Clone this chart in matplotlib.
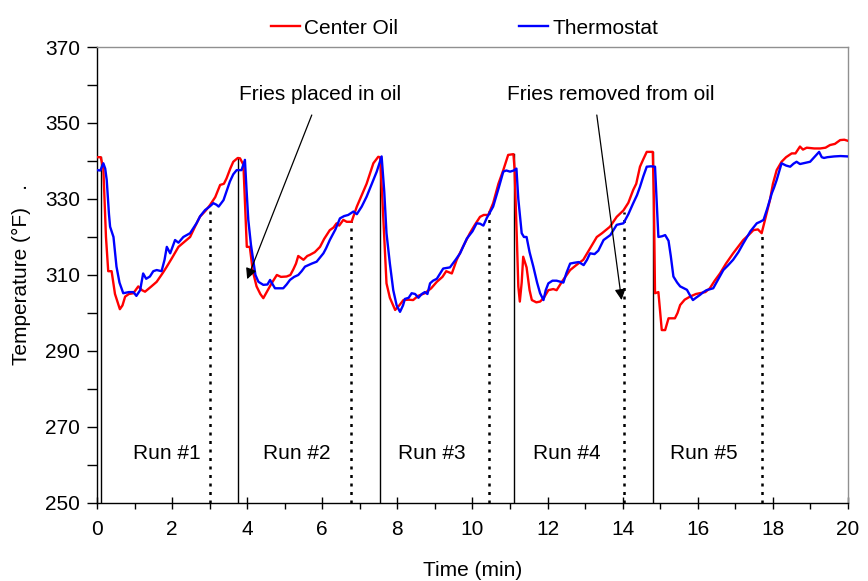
import matplotlib
matplotlib.use("Agg")
import matplotlib.pyplot as plt
from matplotlib.ticker import MultipleLocator, FixedLocator

plt.rcParams['font.family'] = ['Liberation Sans', 'DejaVu Sans']

# Center oil temperature (red)
oil_t = [0.00, 0.10, 0.17, 0.24, 0.30, 0.39, 0.48, 0.61, 0.68, 0.75, 0.85, 0.97, 1.10, 1.20, 1.28, 1.45, 1.59,
         1.75, 1.86, 2.00, 2.17, 2.30, 2.48, 2.60, 2.74, 2.90, 3.01, 3.15, 3.28, 3.38, 3.45, 3.55, 3.63, 3.75,
         3.81, 3.90, 3.96, 3.99, 4.07, 4.15, 4.25, 4.35, 4.43, 4.55, 4.65, 4.79, 4.90, 5.05, 5.15, 5.23, 5.30,
         5.36, 5.43, 5.50, 5.60, 5.67, 5.80, 5.94, 6.05, 6.20, 6.30, 6.38, 6.45, 6.56, 6.65, 6.78, 6.85, 6.92,
         7.05, 7.18, 7.28, 7.36, 7.49, 7.54, 7.60, 7.71, 7.80, 7.94, 8.05, 8.16, 8.30, 8.42, 8.55, 8.73, 8.90,
         9.05, 9.20, 9.30, 9.45, 9.58, 9.75, 9.93, 10.05, 10.20, 10.30, 10.42, 10.55, 10.69, 10.82, 10.95,
         11.09, 11.12, 11.18, 11.22, 11.26, 11.31, 11.35, 11.44, 11.52, 11.58, 11.70, 11.80, 11.90, 12.02,
         12.15, 12.24, 12.40, 12.60, 12.75, 12.95, 13.10, 13.31, 13.45, 13.66, 13.84, 14.02, 14.15, 14.28,
         14.36, 14.46, 14.55, 14.64, 14.80, 14.83, 14.86, 14.95, 15.00, 15.04, 15.13, 15.22, 15.39, 15.46,
         15.53, 15.65, 15.79, 15.95, 16.05, 16.20, 16.32, 16.45, 16.59, 16.75, 16.94, 17.08, 17.21, 17.35,
         17.48, 17.60, 17.70, 17.80, 17.92, 18.00, 18.10, 18.23, 18.35, 18.50, 18.60, 18.72, 18.80, 18.90,
         19.10, 19.26, 19.40, 19.52, 19.65, 19.79, 19.90, 20.00]
oil_T = [341, 341, 338, 320, 311, 311, 305, 301, 302, 304.3, 305, 305.2, 307, 306, 305.6, 307, 308.2,
         310.5, 312.2, 314.5, 317.4, 318.5, 320, 322.5, 325.3, 327, 328.4, 330.5, 333.7, 334, 335.4, 338, 339.8, 340.8,
         340.7, 339, 325, 317.4, 317.4, 311, 307, 305, 303.9, 306, 307.8, 310, 309.5, 309.6, 310, 311.5, 313,
         315, 314.5, 314, 315, 315.3, 316, 317.4, 319.5, 321.8, 322.5, 323.6, 323, 324.5, 324, 324, 326, 328,
         331, 334, 337, 339.4, 341.1, 341, 330, 307.8, 304, 300.8, 302, 303.4, 303.5, 303.4, 304.5, 305.2, 306.5,
         308.2, 309.5, 311, 310.4, 314, 317.5, 321, 323, 325.3, 325.8, 325.8, 328.9, 334, 337.6, 341.6,
         341.8, 338, 320, 307, 303, 308, 314.8, 312, 306, 303.4, 302.8, 303, 304, 306,
         306.3, 306, 308.5, 311.3, 312.5, 314, 316.5, 320, 321, 322.7, 325.3, 327, 329, 332.4,
         334, 338.5, 340.5, 342.4, 342.4, 330, 305.2, 305.5, 300, 295.5, 295.5, 298.6, 298.6, 300,
         302.1, 303.5, 304.3, 305, 305.2, 305.5, 306.5, 308.5, 310.4, 313, 315.7, 317.5, 319.2, 320.5,
         321.8, 322, 321, 325, 329.7, 334, 337.6, 339.8, 341, 342, 342, 343.8, 343, 343.5,
         343.3, 343.3, 343.5, 344.2, 344.5, 345.5, 345.6, 345.3]

# Thermostat temperature (blue)
th_t = [0.00, 0.09, 0.17, 0.22, 0.26, 0.32, 0.35, 0.44, 0.52, 0.60, 0.70, 0.85, 0.97, 1.05, 1.15, 1.23, 1.31,
        1.41, 1.50, 1.59, 1.72, 1.80, 1.86, 1.95, 2.08, 2.17, 2.30, 2.48, 2.65, 2.75, 2.88, 3.00, 3.10, 3.18,
        3.24, 3.37, 3.45, 3.54, 3.63, 3.72, 3.85, 3.94, 3.98, 4.03, 4.10, 4.16, 4.22, 4.30, 4.43, 4.54, 4.61,
        4.68, 4.74, 4.85, 4.96, 5.05, 5.14, 5.25, 5.36, 5.45, 5.54, 5.72, 5.85, 6.03, 6.10, 6.20, 6.35, 6.47,
        6.58, 6.69, 6.83, 6.92, 7.05, 7.18, 7.32, 7.45, 7.58, 7.65, 7.71, 7.80, 7.89, 7.98, 8.07, 8.15, 8.20,
        8.30, 8.38, 8.47, 8.56, 8.65, 8.73, 8.80, 8.87, 8.95, 9.05, 9.22, 9.40, 9.55, 9.67, 9.85, 10.00, 10.11,
        10.20, 10.29, 10.38, 10.55, 10.70, 10.82, 10.90, 11.00, 11.10, 11.17, 11.22, 11.31, 11.37, 11.44,
        11.52, 11.62, 11.72, 11.80, 11.89, 11.95, 12.02, 12.13, 12.24, 12.42, 12.50, 12.60, 12.70, 12.83,
        12.96, 13.05, 13.13, 13.25, 13.35, 13.49, 13.67, 13.84, 14.02, 14.15, 14.28, 14.38, 14.46, 14.55,
        14.64, 14.75, 14.86, 14.90, 14.95, 15.05, 15.13, 15.22, 15.28, 15.35, 15.45, 15.53, 15.71, 15.80,
        15.87, 15.95, 16.05, 16.15, 16.23, 16.41, 16.55, 16.68, 16.80, 16.94, 17.08, 17.21, 17.40, 17.57,
        17.66, 17.75, 17.85, 17.97, 18.03, 18.10, 18.23, 18.35, 18.46, 18.55, 18.63, 18.72, 18.81, 18.90,
        18.99, 19.10, 19.23, 19.30, 19.36, 19.45, 19.63, 19.80, 20.00]
th_T = [337.6, 337.5, 339.4, 338, 335, 326, 322.7, 320, 312.2, 308, 305.2, 305.5, 305.5, 304.5, 306, 310.4, 309,
        309.6, 311, 311.3, 311, 314, 317.4, 315.7, 319.2, 318.5, 320, 321, 323.6, 325.5, 327.1, 328, 328.9, 328.5,
        328, 329.7, 332, 334.6, 336.5, 337.6, 337.6, 340.3, 333, 324.5, 318, 314, 310, 308.2, 307.4, 307.5, 308.7,
        307.5, 306.5, 306.5, 306.5, 307.5, 308.7, 309.5, 310, 311, 312.2, 313, 313.5, 315.7, 317, 319.2, 322, 324.9,
        325.5, 325.8, 326.7, 326, 328, 330.6, 334, 337.2, 341.2, 332, 321, 313, 306, 302, 300.3, 302, 303.7,
        304, 305.2, 305, 304, 305, 305.5, 305, 307.8, 308.5, 309, 311.7, 312, 314, 315.7, 319.6, 321.5, 323.6,
        323.5, 323, 325, 328, 333, 337.2, 337.5, 337.2, 337.5, 338, 330, 321, 320, 320,
        316, 312.2, 308, 305.2, 303.4, 306, 307.8, 308.5, 308.5, 308, 310.5, 313, 313.2, 313.4,
        312.6, 314, 315.7, 315.5, 316.4, 319.2, 320.5, 323.2, 323.6, 326, 328.9, 331, 333.2, 336,
        338.5, 338.6, 338.5, 330, 320, 320.2, 320.5, 319, 315, 309.6, 308, 307, 306.1, 304.5,
        303.4, 304, 304.7, 305.5, 306, 306.5, 309, 311.3, 312.5, 314, 316, 318.3, 321.5, 323.6,
        324, 324.5, 327.5, 331.5, 333, 335, 339.4, 338.8, 338.5, 339.3, 339.8, 339.2, 339.4, 339.6,
        339.8, 341, 342.4, 341, 340.8, 341, 341.2, 341.3, 341.2]

# Run boundaries: fries placed (solid) and removed (dotted)
placed_t = [0.10, 3.76, 7.53, 11.10, 14.80]
placed_T = [341, 340.7, 341, 341.8, 342.4]
removed_t = [3.01, 6.77, 10.44, 14.03, 17.72]
removed_T = [328.2, 324.2, 327, 326.6, 321.2]
run_labels = ["Run #1", "Run #2", "Run #3", "Run #4", "Run #5"]
run_label_t = [1.86, 5.33, 8.92, 12.52, 16.17]

y_ticks = [250, 270, 290, 310, 330, 350, 370]

fig = plt.figure(figsize=(8.68, 5.81), dpi=100)
ax = fig.add_axes([0.1117, 0.1343, 0.8653, 0.7848])

ax.plot(oil_t, oil_T, color='#ff0000', lw=1.7, label='Center Oil', zorder=3)
ax.plot(th_t, th_T, color='#0000ff', lw=1.7, label='Thermostat', zorder=3)

for t, T in zip(placed_t, placed_T):
    ax.plot([t, t], [250, T], color='black', lw=1.0, zorder=2)
for t, T in zip(removed_t, removed_T):
    ax.plot([t, t], [250, T], color='black', lw=1.8, linestyle=(0, (1.2, 2.2)), zorder=2)

for t, lab in zip(run_label_t, run_labels):
    ax.text(t, 263.0, lab, fontsize=15, ha='center', va='center')

ax.text(5.94, 357.4, "Fries placed in oil", fontsize=15, ha='center', va='center')
ax.annotate("", xy=(4.0, 308.9), xytext=(5.72, 352.1),
            arrowprops=dict(arrowstyle='-|>', color='black', lw=0.9, mutation_scale=16,
                            shrinkA=0, shrinkB=0))
ax.text(13.69, 357.4, "Fries removed from oil", fontsize=15, ha='center', va='center')
ax.annotate("", xy=(13.97, 303.4), xytext=(13.31, 352.1),
            arrowprops=dict(arrowstyle='-|>', color='black', lw=0.9, mutation_scale=16,
                            shrinkA=0, shrinkB=0))

ax.set_xlim(0, 20)
ax.set_ylim(250, 370)
ax.xaxis.set_major_locator(MultipleLocator(2))
ax.xaxis.set_minor_locator(MultipleLocator(1))
ax.yaxis.set_major_locator(FixedLocator(y_ticks))
ax.yaxis.set_minor_locator(MultipleLocator(10))
ax.tick_params(axis='x', which='major', direction='inout', length=8, width=1, labelsize=15, pad=8)
ax.tick_params(axis='x', which='minor', direction='out', length=4, width=1)
ax.tick_params(axis='y', which='major', direction='out', length=7, width=1, labelsize=15, pad=5)
ax.tick_params(axis='y', which='minor', direction='out', length=7, width=1)

for s in ['top', 'right']:
    ax.spines[s].set_color('#909090')
for s in ['left', 'bottom']:
    ax.spines[s].set_color('black')
for s in ax.spines.values():
    s.set_linewidth(1.0)

ax.set_xlabel("Time (min)", fontsize=15, labelpad=16)
ax.set_ylabel("Temperature (°F)   .", fontsize=15, labelpad=10)

fig.legend(loc='upper center', bbox_to_anchor=(0.535, 1.0), ncol=2, frameon=False,
           fontsize=15, handlelength=1.4, handletextpad=0.2, columnspacing=5.8)

fig.savefig("out.png", dpi=100)
